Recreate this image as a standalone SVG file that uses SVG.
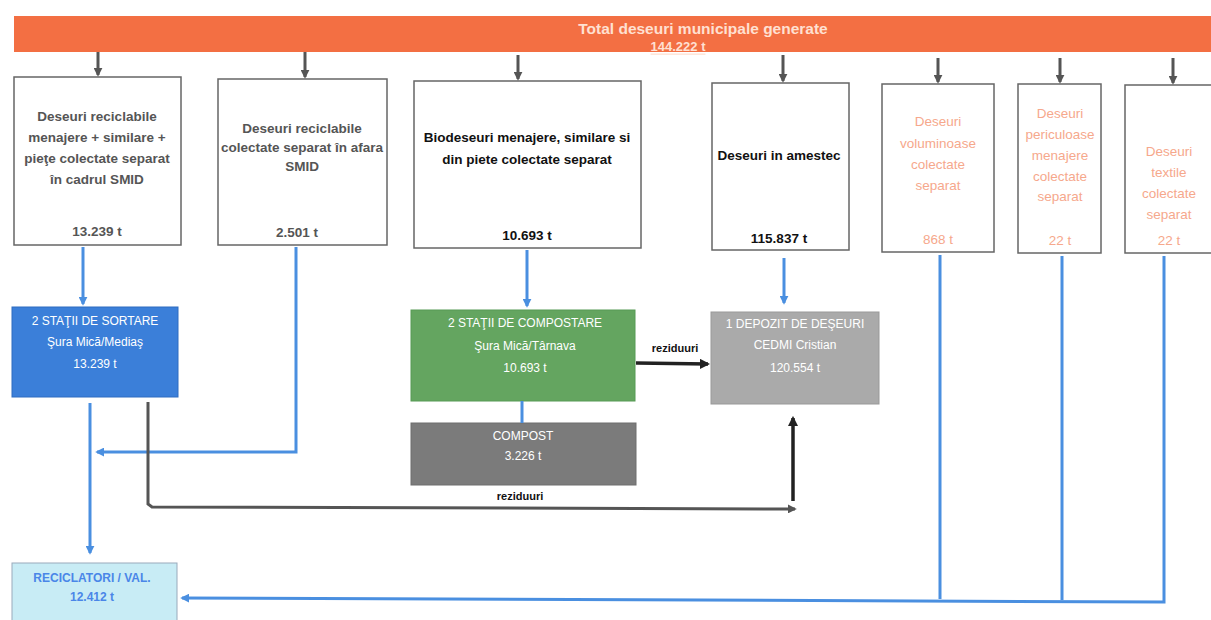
<svg xmlns="http://www.w3.org/2000/svg" width="1211" height="620" viewBox="0 0 1211 620">
<defs>
<marker id="ag" viewBox="0 0 10 10" refX="8" refY="5" markerWidth="3" markerHeight="3" orient="auto"><path d="M0,0 L10,5 L0,10 z" fill="#555"/></marker>
<marker id="ab" viewBox="0 0 10 10" refX="8" refY="5" markerWidth="3" markerHeight="3" orient="auto"><path d="M0,0 L10,5 L0,10 z" fill="#4a8fe0"/></marker>
<marker id="ak" viewBox="0 0 10 10" refX="8" refY="5" markerWidth="3" markerHeight="3" orient="auto"><path d="M0,0 L10,5 L0,10 z" fill="#222"/></marker>
<style>
.box{fill:#fff;stroke:#666;stroke-width:1.5}
.t{font-family:"Liberation Sans",Arial,sans-serif;text-anchor:middle;dominant-baseline:central}
.b1{font-size:13.5px;font-weight:bold;fill:#555}
.b3{font-size:13.5px;font-weight:bold;fill:#111}
.sal{font-size:13.5px;fill:#f6a88c}
.w{font-size:12px;fill:#fff}
.gl{stroke:#555;stroke-width:3;fill:none}
.bl{stroke:#4a8fe0;stroke-width:3;fill:none}
.kl{stroke:#222;stroke-width:3.5;fill:none}
</style>
</defs>
<g id="total">
<rect x="14" y="16" width="1197" height="36" fill="#f36f43"/>
<text class="t" x="703" y="28" font-size="15.5" font-weight="bold" fill="#ffe0d2">Total deseuri municipale  generate</text>
<text class="t" x="678" y="46" font-size="13" font-weight="bold" fill="#ffe0d2" text-decoration="underline">144.222 t</text>
</g>
<g id="n1">
<rect class="box" x="14" y="77" width="167" height="168"/>
<text class="t b1" x="97" y="116">Deseuri reciclabile</text>
<text class="t b1" x="97" y="137">menajere + similare +</text>
<text class="t b1" x="97" y="158">pieţe colectate separat</text>
<text class="t b1" x="97" y="179">în cadrul SMID</text>
<text class="t b1" x="97" y="231">13.239 t</text>
</g>
<g id="n2">
<rect class="box" x="218" y="79" width="169" height="166"/>
<text class="t b1" x="302" y="128" fill="#8a6a9a">Deseuri reciclabile</text>
<text class="t b1" x="302" y="147" font-size="12.5">colectate separat în afara</text>
<text class="t b1" x="302" y="166">SMID</text>
<text class="t b1" x="297" y="232">2.501 t</text>
</g>
<g id="n3">
<rect class="box" x="414" y="81" width="227" height="167" fill="#e5f6e3"/>
<text class="t b3" x="527" y="137">Biodeseuri menajere, similare si</text>
<text class="t b3" x="527" y="159">din piete colectate separat</text>
<text class="t b3" x="527" y="235">10.693 t</text>
</g>
<g id="n4">
<rect class="box" x="712" y="83" width="137" height="167"/>
<text class="t b3" x="779" y="155" font-size="13">Deseuri in amestec</text>
<text class="t b3" x="779" y="238">115.837 t</text>
</g>
<g id="n5">
<rect class="box" x="882" y="84" width="112" height="168"/>
<text class="t sal" x="938" y="121" fill="#f9cbbb">Deseuri</text>
<text class="t sal" x="938" y="143">voluminoase</text>
<text class="t sal" x="938" y="164">colectate</text>
<text class="t sal" x="938" y="185">separat</text>
<text class="t sal" x="938" y="239">868 t</text>
</g>
<g id="n6">
<rect class="box" x="1018" y="84" width="83" height="169"/>
<text class="t sal" x="1060" y="113">Deseuri</text>
<text class="t sal" x="1060" y="134">periculoase</text>
<text class="t sal" x="1060" y="155">menajere</text>
<text class="t sal" x="1060" y="176">colectate</text>
<text class="t sal" x="1060" y="196">separat</text>
<text class="t sal" x="1060" y="240">22 t</text>
</g>
<g id="n7">
<rect class="box" x="1125" y="85" width="90" height="168"/>
<text class="t sal" x="1169" y="151">Deseuri</text>
<text class="t sal" x="1169" y="172">textile</text>
<text class="t sal" x="1169" y="193">colectate</text>
<text class="t sal" x="1169" y="214">separat</text>
<text class="t sal" x="1169" y="240">22 t</text>
</g>
<g id="sortare">
<rect x="12" y="307" width="166" height="90" fill="#3b7fd9" stroke="#2f6cc0"/>
<text class="t w" x="95" y="321">2 STAŢII DE SORTARE</text>
<text class="t w" x="95" y="342">Şura Mică/Mediaş</text>
<text class="t w" x="95" y="364">13.239 t</text>
</g>
<g id="compostare">
<rect x="411" y="310" width="224" height="91" fill="#64a560" stroke="#579a55"/>
<text class="t w" x="525" y="323" fill="#eef0b8">2 STAŢII DE COMPOSTARE</text>
<text class="t w" x="525" y="346" fill="#eef0b8">Şura Mică/Târnava</text>
<text class="t w" x="525" y="368" fill="#eef0b8">10.693 t</text>
</g>
<g id="depozit">
<rect x="711" y="312" width="168" height="92" fill="#aaaaaa" stroke="#999"/>
<text class="t w" x="795" y="324" fill="#f0f0f0">1 DEPOZIT DE DEŞEURI</text>
<text class="t w" x="795" y="345" fill="#f0f0f0">CEDMI Cristian</text>
<text class="t w" x="795" y="368" fill="#f0f0f0">120.554 t</text>
</g>
<g id="compost">
<rect x="411" y="423" width="225" height="62" fill="#7b7b7b" stroke="#6e6e6e"/>
<text class="t w" x="523" y="436" fill="#dcdcdc">COMPOST</text>
<text class="t w" x="523" y="456" fill="#dcdcdc">3.226 t</text>
</g>
<g id="reciclatori">
<rect x="12" y="563" width="165" height="60" fill="#c8ecf5" stroke="#9ab"/>
<text class="t" x="92" y="578" font-size="12" font-weight="bold" fill="#4a86e8">RECICLATORI / VAL.</text>
<text class="t" x="92" y="597" font-size="12" font-weight="bold" fill="#4a86e8">12.412 t</text>
</g>
<g id="connectors">
<line class="gl" x1="98" y1="52" x2="98" y2="75" marker-end="url(#ag)"/>
<line class="gl" x1="305" y1="52" x2="305" y2="77" marker-end="url(#ag)"/>
<line class="gl" x1="518" y1="55" x2="518" y2="79" marker-end="url(#ag)"/>
<line class="gl" x1="783" y1="55" x2="783" y2="81" marker-end="url(#ag)"/>
<line class="gl" x1="938" y1="58" x2="938" y2="82" marker-end="url(#ag)"/>
<line class="gl" x1="1060" y1="58" x2="1060" y2="82" marker-end="url(#ag)"/>
<line class="gl" x1="1173" y1="58" x2="1173" y2="83" marker-end="url(#ag)"/>
<line class="bl" x1="83" y1="247" x2="83" y2="304" marker-end="url(#ab)"/>
<polyline class="bl" points="296,247 296,452 97,452" marker-end="url(#ab)"/>
<line class="bl" x1="90" y1="403" x2="90" y2="553" marker-end="url(#ab)"/>
<line class="bl" x1="527" y1="250" x2="527" y2="306" marker-end="url(#ab)"/>
<line class="bl" x1="784" y1="258" x2="784" y2="303" marker-end="url(#ab)" stroke-width="3.5"/>
<line class="bl" x1="522" y1="401" x2="522" y2="423"/>
<line class="kl" x1="636" y1="363" x2="708" y2="364" marker-end="url(#ak)"/>
<text class="t" x="675" y="348" font-size="11" font-weight="bold" fill="#111">reziduuri</text>
<polyline class="gl" points="148,402 148,504 152,507 795,509" stroke-width="3.5" marker-end="url(#ag)"/>
<text class="t" x="520" y="496" font-size="11" font-weight="bold" fill="#111">reziduuri</text>
<line class="kl" x1="793" y1="501" x2="793" y2="418" marker-end="url(#ak)"/>
<line class="bl" x1="940" y1="255" x2="940" y2="599"/>
<line class="bl" x1="1062" y1="256" x2="1062" y2="600"/>
<polyline class="bl" points="1164,256 1164,602 182,598" stroke-width="3.5" marker-end="url(#ab)"/>
</g>
</svg>
